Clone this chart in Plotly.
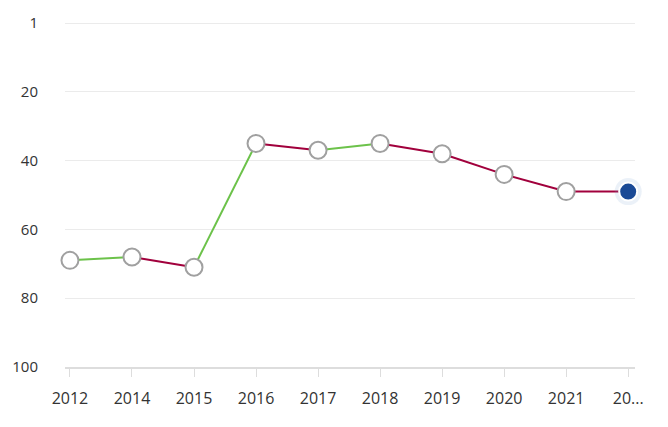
import plotly.graph_objects as go

years = ['2012', '2014', '2015', '2016', '2017', '2018', '2019', '2020', '2021', '2022']
year_labels = ['2012', '2014', '2015', '2016', '2017', '2018', '2019', '2020', '2021', '20...']
ranks = [69, 68, 71, 35, 37, 35, 38, 44, 49, 49]
y_ticks = [0, 20, 40, 60, 80, 100]
y_tick_labels = ['1', '20', '40', '60', '80', '100']

GREEN = '#6cc24a'
RED = '#a1003c'

fig = go.Figure()

# one trace per segment: green when rank improves, red otherwise
for i in range(len(years) - 1):
    col = GREEN if ranks[i + 1] < ranks[i] else RED
    fig.add_trace(go.Scatter(x=years[i:i + 2], y=ranks[i:i + 2], mode='lines',
                             line=dict(color=col, width=2), hoverinfo='skip',
                             cliponaxis=False))

# open markers
fig.add_trace(go.Scatter(x=years[:-1], y=ranks[:-1], mode='markers', cliponaxis=False,
                         marker=dict(size=17, color='white',
                                     line=dict(color='#a0a0a0', width=2))))
# glow + current point
fig.add_trace(go.Scatter(x=years[-1:], y=ranks[-1:], mode='markers', cliponaxis=False,
                         marker=dict(size=27, color='rgba(120,160,210,0.15)',
                                     line=dict(width=0)), hoverinfo='skip'))
fig.add_trace(go.Scatter(x=years[-1:], y=ranks[-1:], mode='markers', cliponaxis=False,
                         marker=dict(size=18, color='#1a4a96',
                                     line=dict(color='white', width=2))))

fig.update_layout(
    width=668, height=427,
    margin=dict(l=57, r=41, t=14, b=68),
    paper_bgcolor='white', plot_bgcolor='white',
    showlegend=False,
    font=dict(family='Open Sans, sans-serif', size=16, color='#333333'),
)
fig.update_xaxes(type='category', categoryorder='array', categoryarray=years,
                 tickvals=years, ticktext=year_labels,
                 range=[-0.08, 9.11], showgrid=False, automargin=False,
                 showline=True, linecolor='#dddddd', linewidth=2,
                 ticks='outside', ticklen=8, tickcolor='#dddddd', tickwidth=1,
                 ticklabelstandoff=8, zeroline=False)
fig.update_yaxes(range=[100, -0.3], tickvals=y_ticks, ticktext=y_tick_labels,
                 tickfont=dict(size=15),
                 showgrid=True, gridcolor='#ebebeb', gridwidth=1, automargin=False,
                 zeroline=False, showline=False, ticklabelstandoff=26)

fig.write_html("out.html")
